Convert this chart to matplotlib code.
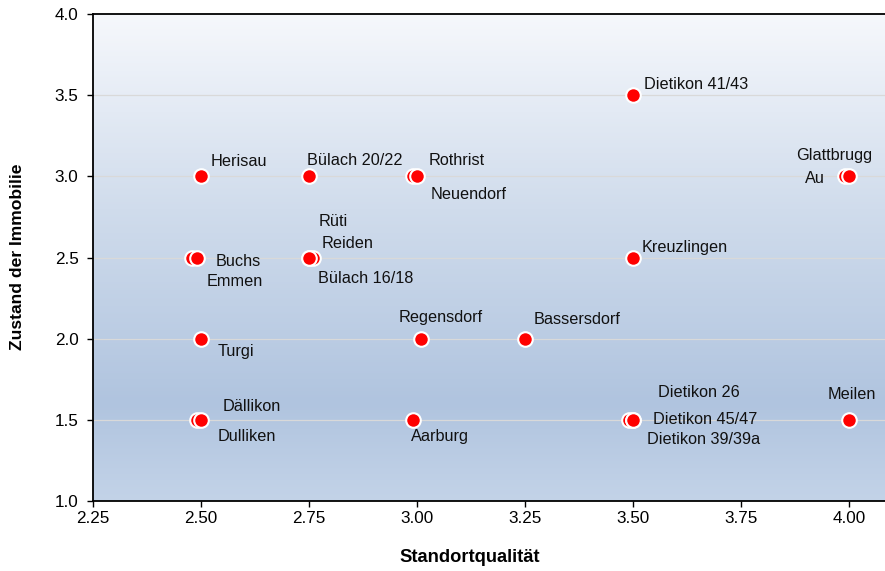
import numpy as np
import matplotlib
matplotlib.use("Agg")
import matplotlib.pyplot as plt
from matplotlib.colors import LinearSegmentedColormap

plt.rcParams['font.family'] = ['Liberation Sans', 'DejaVu Sans']

names = ["Herisau", "Bülach 20/22", "Rothrist", "Neuendorf", "Dietikon 41/43",
         "Au", "Glattbrugg", "Emmen", "Buchs", "Rüti", "Reiden", "Bülach 16/18",
         "Kreuzlingen", "Turgi", "Regensdorf", "Bassersdorf", "Dällikon", "Dulliken",
         "Aarburg", "Dietikon 26", "Dietikon 45/47", "Dietikon 39/39a", "Meilen"]
standort = [2.50, 2.75, 2.99, 3.00, 3.50,
            3.99, 4.00, 2.48, 2.49, 2.75, 2.76, 2.75,
            3.50, 2.50, 3.01, 3.25, 2.49, 2.50,
            2.99, 3.49, 3.50, 3.50, 4.00]
zustand = [3.0, 3.0, 3.0, 3.0, 3.5,
           3.0, 3.0, 2.5, 2.5, 2.5, 2.5, 2.5,
           2.5, 2.0, 2.0, 2.0, 1.5, 1.5,
           1.5, 1.5, 1.5, 1.5, 1.5]
xticks = [2.25, 2.50, 2.75, 3.00, 3.25, 3.50, 3.75, 4.00]
yticks = [1.0, 1.5, 2.0, 2.5, 3.0, 3.5, 4.0]

# label placement: (dx px, dy px, ha) relative to the point (screen pixels, dy positive = up)
label_layout = {
    "Herisau": (10, 15, 'left'), "Bülach 20/22": (-2, 16, 'left'),
    "Rothrist": (16, 16, 'left'), "Neuendorf": (14, -18, 'left'),
    "Dietikon 41/43": (11, 11, 'left'), "Au": (-20, -2, 'right'),
    "Glattbrugg": (-53, 21, 'left'), "Emmen": (14, -24, 'left'),
    "Buchs": (19, -4, 'left'), "Rüti": (10, 36, 'left'), "Reiden": (8, 14, 'left'),
    "Bülach 16/18": (9, -21, 'left'), "Kreuzlingen": (9, 10, 'left'),
    "Turgi": (17, -13, 'left'), "Regensdorf": (-23, 21, 'left'),
    "Bassersdorf": (9, 19, 'left'), "Dällikon": (26, 13, 'left'),
    "Dulliken": (17, -17, 'left'), "Aarburg": (-2, -17, 'left'),
    "Dietikon 26": (29, 27, 'left'), "Dietikon 45/47": (20, 0, 'left'),
    "Dietikon 39/39a": (14, -20, 'left'), "Meilen": (-22, 25, 'left'),
}

W, H, DPI = 885, 571, 100
fig = plt.figure(figsize=(W / DPI, H / DPI), dpi=DPI)
ax = fig.add_axes([93 / W, (H - 501) / H, 1 - 93 / W, (501 - 14) / H])

xlim = (2.25, 4.083)
ylim = (1.0, 4.0)

cmap = LinearSegmentedColormap.from_list(
    "bg", [(0.0, "#c3d3e8"), (0.2, "#b0c4df"), (0.6, "#d0dcec"), (1.0, "#f6f8fc")])
grad = np.linspace(0, 1, 256).reshape(-1, 1)
ax.imshow(grad, aspect='auto', cmap=cmap, origin='lower',
          extent=[xlim[0], xlim[1], ylim[0], ylim[1]], zorder=0)

for yv in [1.5, 2.0, 2.5, 3.0, 3.5]:
    ax.axhline(yv, color="#d9d9d9", lw=0.9, zorder=1)

ax.scatter(standort, zustand, s=110, c="#ff0000", edgecolors="white",
           linewidths=1.5, zorder=3)

for n, xv, yv in zip(names, standort, zustand):
    dx, dy, ha = label_layout[n]
    ax.annotate(n, (xv, yv), xytext=(dx * 0.72, dy * 0.72), textcoords='offset points',
                ha=ha, va='center', fontsize=11.7, color="#111111", zorder=4)

ax.set_xlim(*xlim)
ax.set_ylim(*ylim)
ax.set_xticks(xticks)
ax.set_xticklabels([f"{t:.2f}" for t in xticks])
ax.set_yticks(yticks)
ax.set_yticklabels([f"{t:.1f}" for t in yticks])
ax.tick_params(direction='out', length=4.5, width=1, labelsize=12.3, color='black')
ax.tick_params(axis='x', pad=3)
ax.tick_params(axis='y', pad=6)
for s in ['left', 'bottom', 'top']:
    ax.spines[s].set_linewidth(1.3)
    ax.spines[s].set_color('black')
ax.spines['right'].set_visible(False)

fig.text(470 / W, 1 - 558 / H, "Standortqualität", fontsize=13.2, fontweight='bold',
         ha='center', va='center')
fig.text(18 / W, 1 - 257 / H, "Zustand der Immobilie", fontsize=12.6, fontweight='bold',
         ha='center', va='center', rotation=90)

fig.savefig("out.png", dpi=DPI)
